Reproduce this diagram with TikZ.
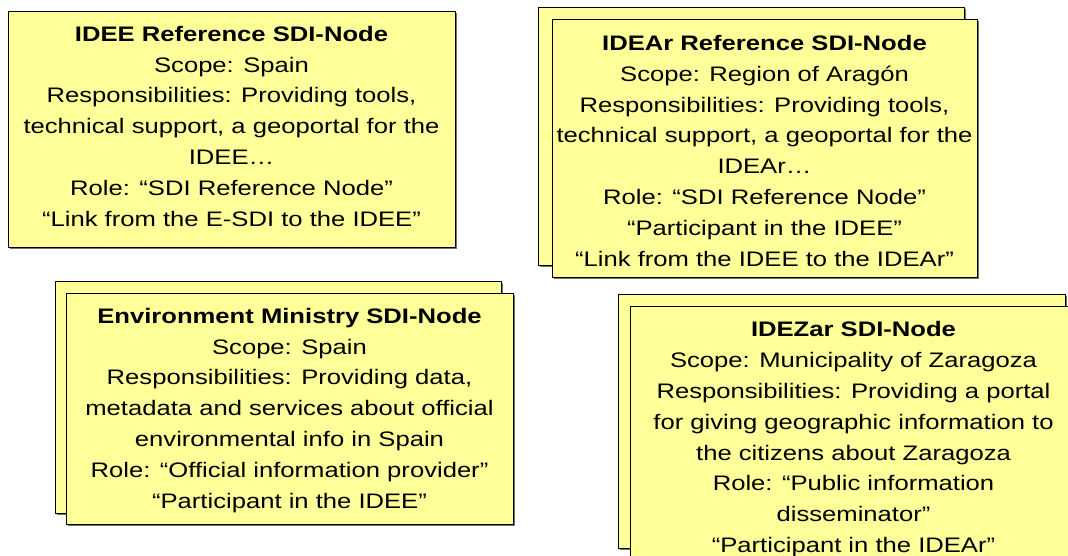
\documentclass[tikz,border=0pt]{standalone}
\usepackage{fontspec}
\setmainfont[FakeStretch=1.22]{Liberation Sans}
\usetikzlibrary{shadows}
\definecolor{noteyellow}{HTML}{FFFF99}
\tikzset{
  card/.style={draw=black, line width=1.2pt, fill=noteyellow, rectangle, inner sep=0pt,
    anchor=north west,
    drop shadow={shadow xshift=1.6pt, shadow yshift=-1.6pt, fill=black!55, opacity=1}},
  cardtext/.style={align=center, inner sep=0pt, anchor=base,
    font=\fontsize{21}{30.8}\selectfont},
}
\begin{document}
\begin{tikzpicture}[x=1pt,y=-1pt]
\useasboundingbox (0,0) rectangle (1068,555);
\clip (0,0) rectangle (1068,555);

% IDEE
\node[card, minimum width=447pt, minimum height=236pt] (idee) at (8,11) {};
\node[cardtext] (ideetxt) at (231.5,226) {\textbf{IDEE Reference SDI-Node}\\
Scope: Spain\\
Responsibilities: Providing tools,\\
technical support, a geoportal for the\\
IDEE…\\
Role: “SDI Reference Node”\\
“Link from the E-SDI to the IDEE”};

% IDEAr
\node[card, minimum width=426pt, minimum height=258pt] (idearback) at (538,7) {};
\node[card, minimum width=425pt, minimum height=258pt] (idear) at (552,19) {};
\node[cardtext] (ideartxt) at (764.5,266) {\textbf{IDEAr Reference SDI-Node}\\
Scope: Region of Aragón\\
Responsibilities: Providing tools,\\
technical support, a geoportal for the\\
IDEAr…\\
Role: “SDI Reference Node”\\
“Participant in the IDEE”\\
“Link from the IDEE to the IDEAr”};

% Environment Ministry
\node[card, minimum width=446pt, minimum height=232pt] (envback) at (55,281) {};
\node[card, minimum width=447pt, minimum height=231pt] (env) at (66,293) {};
\node[cardtext] (envtxt) at (289.5,508) {\textbf{Environment Ministry SDI-Node}\\
Scope: Spain\\
Responsibilities: Providing data,\\
metadata and services about official\\
environmental info in Spain\\
Role: “Official information provider”\\
“Participant in the IDEE”};

% IDEZar
\node[card, minimum width=447pt, minimum height=254pt] (idezarback) at (618,294) {};
\node[card, minimum width=447pt, minimum height=254pt] (idezar) at (630,306) {};
\node[cardtext] (idezartxt) at (853.5,552.5) {\textbf{IDEZar SDI-Node}\\
Scope: Municipality of Zaragoza\\
Responsibilities: Providing a portal\\
for giving geographic information to\\
the citizens about Zaragoza\\
Role: “Public information\\
disseminator”\\
“Participant in the IDEAr”};
\end{tikzpicture}
\end{document}
